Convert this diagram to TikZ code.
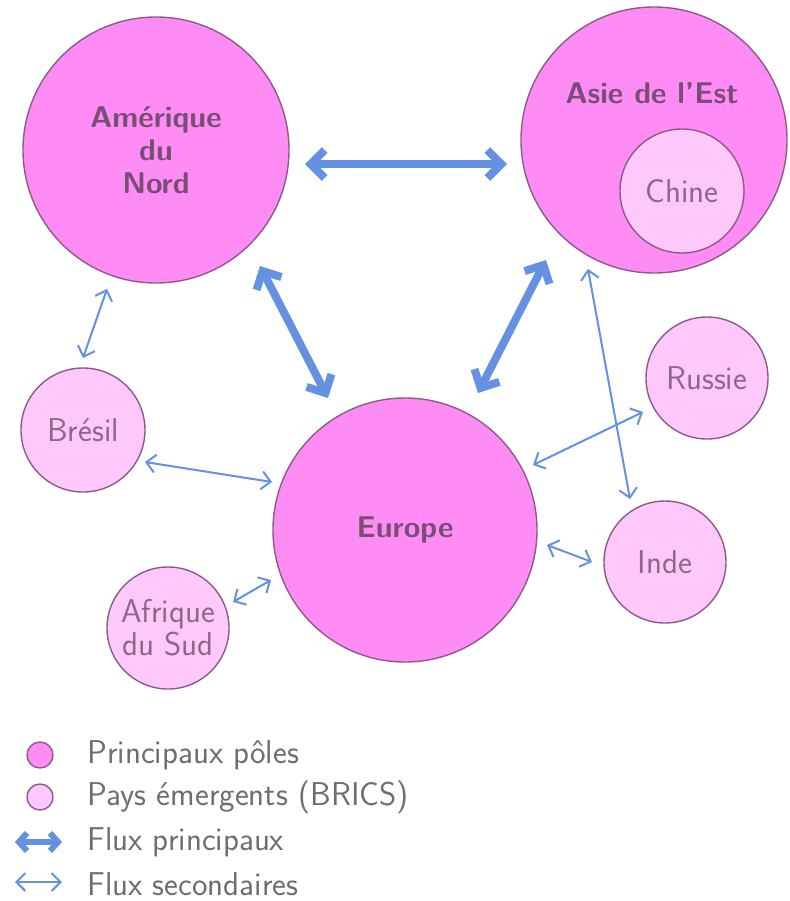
\documentclass[tikz,border=0pt]{standalone}
\usepackage{tikz}
\usetikzlibrary{arrows.meta,positioning}
\definecolor{polefill}{RGB}{255,140,245}
\definecolor{bricsfill}{RGB}{255,200,250}
\definecolor{circline}{RGB}{140,90,138}
\definecolor{fluxblue}{RGB}{100,145,225}
\definecolor{poletext}{RGB}{120,78,118}
\definecolor{bricstext}{RGB}{140,105,138}
\definecolor{legendtext}{RGB}{110,110,110}

\begin{document}
\begin{tikzpicture}[x=0.5pt,y=-0.5pt,
    pole/.style={circle,draw=circline,line width=0.7pt,fill=polefill,inner sep=0pt,
      align=center,text=poletext,font=\sffamily\bfseries\fontsize{15}{16.5}\selectfont},
    brics/.style={circle,draw=circline,line width=0.7pt,fill=bricsfill,inner sep=0pt,
      align=center,text=bricstext,font=\sffamily\fontsize{16.5}{16.5}\selectfont},
    poletitle/.style={text=poletext,font=\sffamily\bfseries\fontsize{15}{16.5}\selectfont},
    bigflux/.style={{Straight Barb[length=7pt,width=14pt]}-{Straight Barb[length=7pt,width=14pt]},
      line width=4pt,draw=fluxblue},
    smallflux/.style={{Straight Barb[length=4.5pt,width=9pt]}-{Straight Barb[length=4.5pt,width=9pt]},
      line width=1pt,draw=fluxblue},
    legtext/.style={anchor=west,inner xsep=0pt,text=legendtext,font=\sffamily\fontsize{16.5}{18}\selectfont}]

    \useasboundingbox (0,0) rectangle (790,901);

    % Principaux poles
    \node[pole,minimum size=133pt] (amn) at (156,150) {Amérique\\du\\Nord};
    \node[pole,minimum size=133pt] (ase) at (654,140) {};
    \node[poletitle] (asetitle) at (652,93) {Asie de l'Est};
    \node[pole,minimum size=132pt] (eur) at (405,530) {Europe};

    % Pays emergents
    \node[brics,minimum size=62pt] (chn) at (682,191) {Chine};
    \node[brics,minimum size=62pt] (bre) at (83,430) {Brésil};
    \node[brics,minimum size=61pt] (rus) at (707,378) {Russie};
    \node[brics,minimum size=61pt] (ind) at (665,562) {Inde};
    \node[brics,minimum size=61pt] (afs) at (168,628) {Afrique\\du Sud};

    % Flux principaux
    \draw[bigflux] ([shift={(149,14)}]amn.center) -- ([shift={(-147,24)}]ase.center);
    \draw[bigflux] ([shift={(104,116)}]amn.center) -- ([shift={(-77,-132)}]eur.center);
    \draw[bigflux] ([shift={(-108,120)}]ase.center) -- ([shift={(73,-137)}]eur.center);

    % Flux secondaires
    \draw[smallflux] ([shift={(-49,139)}]amn.center) -- ([shift={(0,-72)}]bre.center);
    \draw[smallflux] ([shift={(62,32)}]bre.center) -- ([shift={(-133,-48)}]eur.center);
    \draw[smallflux] ([shift={(65,-26)}]afs.center) -- ([shift={(-134,50)}]eur.center);
    \draw[smallflux] ([shift={(-64,34)}]rus.center) -- ([shift={(128,-65)}]eur.center);
    \draw[smallflux] ([shift={(-66,129)}]ase.center) -- ([shift={(-35,-63)}]ind.center);
    \draw[smallflux] ([shift={(142,15)}]eur.center) -- ([shift={(-73,0)}]ind.center);

    % Legende
    \node[pole,minimum size=13pt] (lgpole) at (40,755) {};
    \node[legtext] (lgpoletext) at (87,755) {Principaux pôles};
    \node[brics,minimum size=13pt] (lgbrics) at (40,797) {};
    \node[legtext] (lgbricstext) at (87,797) {Pays émergents (BRICS)};
    \coordinate (lgbigA) at (15,842);
    \coordinate (lgbigB) at (62,842);
    \draw[bigflux,line width=3pt,{Straight Barb[length=4pt,width=9pt]}-{Straight Barb[length=4pt,width=9pt]}] (lgbigA) -- (lgbigB);
    \node[legtext] (lgbigtext) at (87,842) {Flux principaux};
    \coordinate (lgsmallA) at (15,882);
    \coordinate (lgsmallB) at (62,882);
    \draw[smallflux] (lgsmallA) -- (lgsmallB);
    \node[legtext] (lgsmalltext) at (87,884) {Flux secondaires};
\end{tikzpicture}
\end{document}
